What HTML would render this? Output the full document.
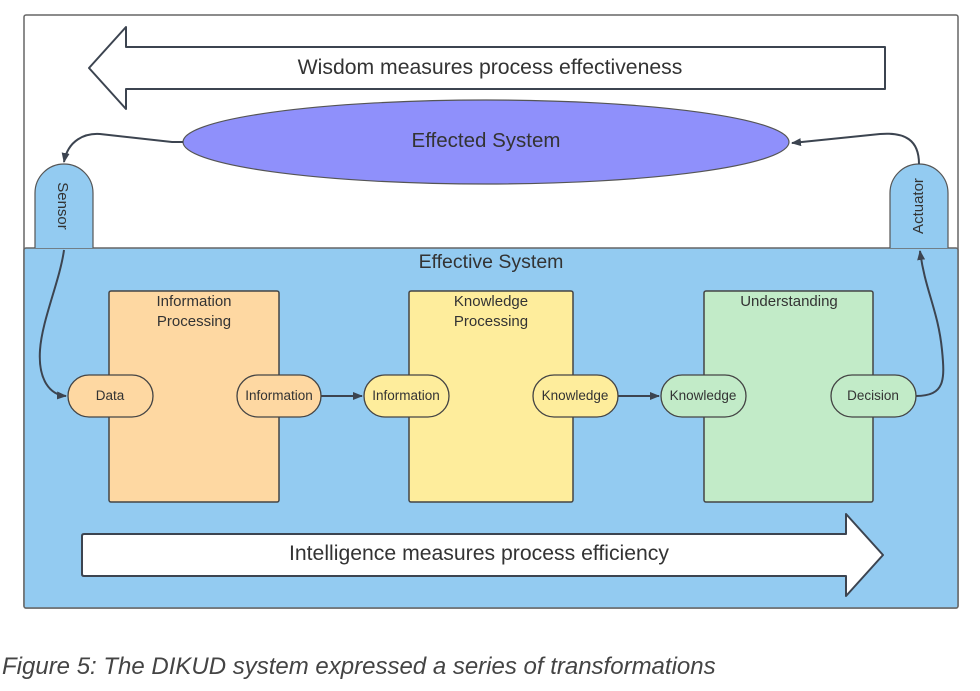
<!DOCTYPE html>
<html><head><meta charset="utf-8"><style>
body{margin:0;background:#fff;width:980px;height:686px;overflow:hidden}
</style></head><body>
<svg width="980" height="686" xmlns="http://www.w3.org/2000/svg" font-family="Liberation Sans, sans-serif">
<defs><marker id="a" markerWidth="10" markerHeight="8" refX="9" refY="4" orient="auto" markerUnits="userSpaceOnUse"><path d="M0,0 L10,4 L0,8 z" fill="#3c4450"/></marker></defs>
<rect x="24" y="15" width="934" height="593" rx="2" fill="#fff" stroke="#666" stroke-width="1.5"/>
<rect x="24" y="248" width="934" height="360" rx="2" fill="#93cbf1" stroke="#666" stroke-width="1.5"/>
<path d="M126,27 L126,47 L885,47 L885,89 L126,89 L126,109 L89,68 Z" fill="#fff" stroke="#3c4450" stroke-width="2" stroke-linejoin="round"/>
<text x="490" y="74" font-size="21.2" fill="#333" text-anchor="middle">Wisdom measures process effectiveness</text>
<ellipse cx="486" cy="142" rx="303" ry="42" fill="#8f90fb" stroke="#555" stroke-width="1.2"/>
<text x="486" y="147" font-size="20.5" fill="#333" text-anchor="middle">Effected System</text>
<path d="M35,248 L35,193 A29,29 0 0 1 93,193 L93,248" fill="#93cbf1" stroke="#555" stroke-width="1.2"/>
<text transform="translate(58,206) rotate(90)" font-size="15" fill="#333" text-anchor="middle">Sensor</text>
<path d="M890,248 L890,193 A29,29 0 0 1 948,193 L948,248" fill="#93cbf1" stroke="#555" stroke-width="1.2"/>
<text transform="translate(923,206) rotate(-90)" font-size="15" fill="#333" text-anchor="middle">Actuator</text>
<path d="M183,142 L172,142 L100,134 C85,133 68,140 64,162" fill="none" stroke="#3c4450" stroke-width="2" marker-end="url(#a)"/>
<path d="M919,164 C919,140 905,132 880,134 L792,143" fill="none" stroke="#3c4450" stroke-width="2" marker-end="url(#a)"/>
<text x="491" y="268" font-size="19.5" fill="#333" text-anchor="middle">Effective System</text>
<rect x="109" y="291" width="170" height="211" rx="2" fill="#fed8a2" stroke="#444" stroke-width="1.5"/>
<text x="194" y="306" font-size="15" fill="#333" text-anchor="middle">Information</text>
<text x="194" y="326" font-size="15" fill="#333" text-anchor="middle">Processing</text>
<rect x="409" y="291" width="164" height="211" rx="2" fill="#feed9c" stroke="#444" stroke-width="1.5"/>
<text x="491" y="306" font-size="15" fill="#333" text-anchor="middle">Knowledge</text>
<text x="491" y="326" font-size="15" fill="#333" text-anchor="middle">Processing</text>
<rect x="704" y="291" width="169" height="211" rx="2" fill="#c2ebc8" stroke="#444" stroke-width="1.5"/>
<text x="789" y="306" font-size="15" fill="#333" text-anchor="middle">Understanding</text>
<path d="M64,250 C60,280 42,320 40,350 C38,380 50,395 66,396" fill="none" stroke="#3c4450" stroke-width="2" marker-end="url(#a)"/>
<path d="M916,396 C945,396 945,380 942,350 C938,310 925,290 920,251" fill="none" stroke="#3c4450" stroke-width="2" marker-end="url(#a)"/>
<line x1="321" y1="396" x2="362" y2="396" stroke="#3c4450" stroke-width="2" marker-end="url(#a)"/>
<line x1="618" y1="396" x2="659" y2="396" stroke="#3c4450" stroke-width="2" marker-end="url(#a)"/>
<g font-size="13.5" fill="#333" text-anchor="middle" stroke-width="1.3">
<rect x="68" y="375" width="85" height="42" rx="21" fill="#fed8a2" stroke="#444"/><text x="110" y="400">Data</text>
<rect x="237" y="375" width="84" height="42" rx="21" fill="#fed8a2" stroke="#444"/><text x="279" y="400">Information</text>
<rect x="364" y="375" width="85" height="42" rx="21" fill="#feed9c" stroke="#444"/><text x="406" y="400">Information</text>
<rect x="533" y="375" width="85" height="42" rx="21" fill="#feed9c" stroke="#444"/><text x="575" y="400">Knowledge</text>
<rect x="661" y="375" width="85" height="42" rx="21" fill="#c2ebc8" stroke="#444"/><text x="703" y="400">Knowledge</text>
<rect x="831" y="375" width="85" height="42" rx="21" fill="#c2ebc8" stroke="#444"/><text x="873" y="400">Decision</text>
</g>
<path d="M84,534 L846,534 L846,514 L883,555 L846,596 L846,576 L84,576 Q82,576 82,574 L82,536 Q82,534 84,534 Z" fill="#fff" stroke="#3c4450" stroke-width="2" stroke-linejoin="round"/>
<text x="479" y="560" font-size="21.2" fill="#333" text-anchor="middle">Intelligence measures process efficiency</text>
<text x="2" y="674" font-size="24" font-style="italic" fill="#444">Figure 5: The DIKUD system expressed a series of transformations</text>
</svg>
</body></html>
